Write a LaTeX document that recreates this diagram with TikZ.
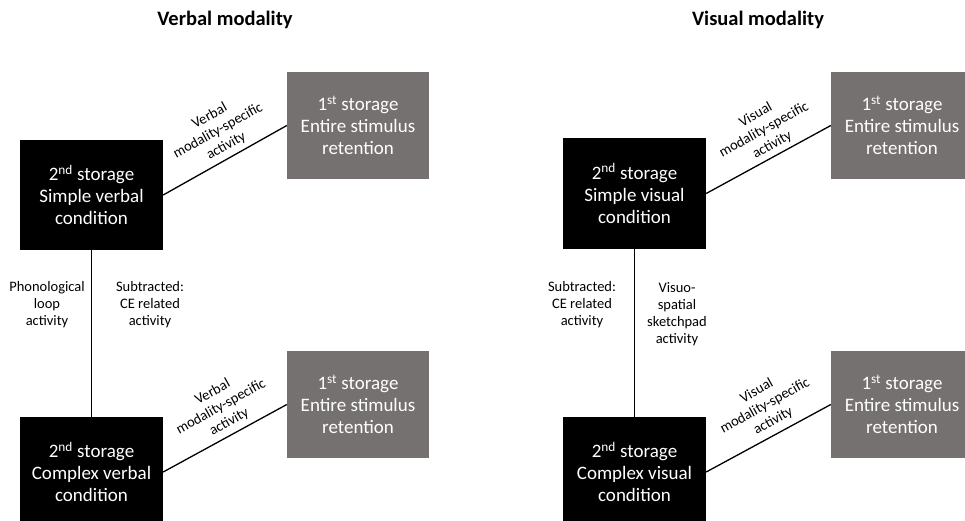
\documentclass[tikz,border=0pt]{standalone}
\usepackage{fontspec}
\setmainfont{Carlito}
\definecolor{gbox}{RGB}{118,113,113}
\begin{document}
\begin{tikzpicture}[x=1pt,y=-1pt,
  boxtext/.style={text=white, inner sep=0pt, align=center, font=\fontsize{19}{22}\selectfont},
  blk/.style={boxtext, fill=black, minimum width=143pt, minimum height=110pt},
  gry/.style={boxtext, fill=gbox, minimum width=142pt, minimum height=107pt},
  lab/.style={align=center, inner sep=0pt, font=\fontsize{14.5}{17}\selectfont},
  ttl/.style={inner sep=0pt, font=\fontsize{20.5}{22}\selectfont\bfseries},
  conn/.style={line width=1.3pt}]
\useasboundingbox (0,0) rectangle (965,521);
\clip (0,0) rectangle (965,521);
\fill[white] (0,0) rectangle (965,521);

% titles
\node[ttl] (t1) at (225,20) {Verbal modality};
\node[ttl] (t2) at (758,20) {Visual modality};

% verbal side
\node[blk] (b1) at (91.5,195) {2\textsuperscript{nd} storage\\Simple verbal\\condition};
\node[gry] (g1) at (358,125.5) {1\textsuperscript{st} storage\\Entire stimulus\\retention};
\node[blk] (b2) at (91.5,472) {2\textsuperscript{nd} storage\\Complex verbal\\condition};
\node[gry] (g2) at (358,404.5) {1\textsuperscript{st} storage\\Entire stimulus\\retention};

\draw[conn] (b1.east) -- (g1.west);
\draw[conn] (b2.east) -- (g2.west);
\draw[conn] (b1.south) -- (b2.north);

\node[lab, rotate=29] (l1) at (218,131) {Verbal\\modality-specific\\activity};
\node[lab, rotate=29] (l2) at (221,407) {Verbal\\modality-specific\\activity};
\node[lab] (l3) at (47,305) {Phonological\\loop\\activity};
\node[lab] (l4) at (150,305) {Subtracted:\\CE related\\activity};

% visual side
\node[blk] (b3) at (634.5,193.5) {2\textsuperscript{nd} storage\\Simple visual\\condition};
\node[gry] (g3) at (902,125.5) {1\textsuperscript{st} storage\\Entire stimulus\\retention};
\node[blk] (b4) at (634.5,472) {2\textsuperscript{nd} storage\\Complex visual\\condition};
\node[gry] (g4) at (902,404.5) {1\textsuperscript{st} storage\\Entire stimulus\\retention};

\draw[conn] (b3.east) -- (g3.west);
\draw[conn] (b4.east) -- (g4.west);
\draw[conn] (b3.south) -- (b4.north);

\node[lab, rotate=29] (l5) at (764,130) {Visual\\modality-specific\\activity};
\node[lab, rotate=29] (l6) at (765,406) {Visual\\modality-specific\\activity};
\node[lab] (l7) at (582,305) {Subtracted:\\CE related\\activity};
\node[lab] (l8) at (677,314) {Visuo-\\spatial\\sketchpad\\activity};
\end{tikzpicture}
\end{document}
